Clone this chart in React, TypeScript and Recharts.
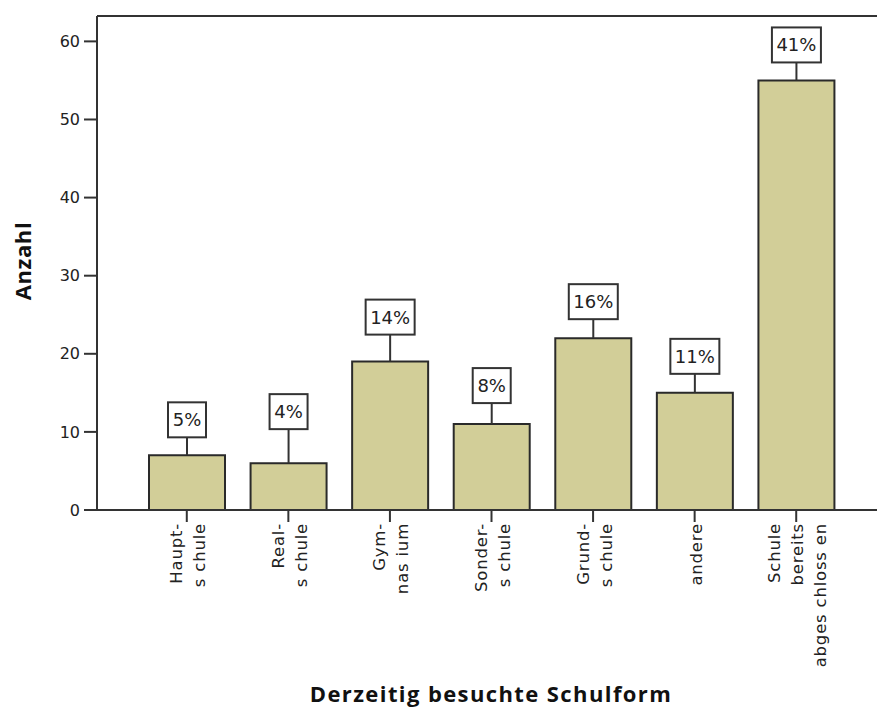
import React from 'react';
import { BarChart, Bar, XAxis, YAxis, ReferenceLine, LabelList } from 'recharts';

const categories = [
  'Haupt-\ns chule',
  'Real-\ns chule',
  'Gym-\nnas ium',
  'Sonder-\ns chule',
  'Grund-\ns chule',
  'andere',
  'Schule\nbereits\nabges chloss en',
];
const counts = [7, 6, 19, 11, 22, 15, 55];
const yTicks = [0, 10, 20, 30, 40, 50, 60];
const xTitle = 'Derzeitig besuchte Schulform';
const yTitle = 'Anzahl';

// layout constants (label lift above each bar, px)
const labelGap = [18, 34, 27, 21, 19, 19, 18];

const total = counts.reduce((a, b) => a + b, 0);
const data = categories.map((name, i) => ({ name, count: counts[i] }));

const AXIS = '#333333';
const FILL = '#D2CE98';
const FONT = '"DejaVu Sans", sans-serif';
const Y_MAX = 63.25;

const XTick = (props: any) => {
  const { x, y, payload } = props;
  const lines = String(payload.value).split('\n');
  const n = lines.length;
  const gap = 23;
  return (
    <g transform={`translate(${x},${y})`}>
      {lines.map((ln, i) => {
        const cx = (i - (n - 1) / 2) * gap + 1 + 6;
        return (
          <text
            key={i}
            x={0}
            y={0}
            transform={`translate(${cx},0) rotate(-90)`}
            textAnchor="end"
            fontFamily={FONT}
            fontSize={16.5}
            letterSpacing={0.8}
            fill="#222"
          >
            {ln}
          </text>
        );
      })}
    </g>
  );
};

const PctLabel = (props: any) => {
  const { x, y, width, value, index } = props;
  const cx = Number(x) + Number(width) / 2;
  const top = Number(y);
  const txt = `${Math.round((Number(value) / total) * 100)}%`;
  const w = 16 + txt.length * 11;
  const h = 35;
  const gap = labelGap[index] ?? 20;
  const boxBottom = top - gap;
  return (
    <g>
      <line x1={cx} y1={top} x2={cx} y2={boxBottom} stroke={AXIS} strokeWidth={2} />
      <rect x={cx - w / 2} y={boxBottom - h} width={w} height={h} fill="#fff" stroke={AXIS} strokeWidth={2} />
      <text
        x={cx}
        y={boxBottom - h / 2 + 6.5}
        textAnchor="middle"
        fontFamily={FONT}
        fontSize={18}
        fill="#222"
      >
        {txt}
      </text>
    </g>
  );
};

const XTitle = (props: any) => {
  const vb = props.viewBox || { x: 97, y: 510, width: 780, height: 197 };
  return (
    <text
      x={vb.x + vb.width / 2 + 4}
      y={vb.y + vb.height - 5}
      textAnchor="middle"
      fontFamily='"Open Sans", sans-serif'
      fontWeight={700}
      fontSize={22}
      letterSpacing={1.4}
      fill="#111"
    >
      {xTitle}
    </text>
  );
};

const YTitle = (props: any) => {
  const vb = props.viewBox || { x: 0, y: 16, width: 97, height: 494 };
  const cx = vb.x + 31;
  const cy = vb.y + vb.height / 2 - 2;
  return (
    <text
      x={cx}
      y={cy}
      transform={`rotate(-90, ${cx}, ${cy})`}
      textAnchor="middle"
      fontFamily='"Open Sans", sans-serif'
      fontWeight={700}
      fontSize={22}
      letterSpacing={0.6}
      fill="#111"
    >
      {yTitle}
    </text>
  );
};

export default function App() {
  return (
    <div style={{ position: 'absolute', left: 0, top: 0, width: 877, height: 707, background: '#fff' }}>
      <BarChart
        width={877}
        height={707}
        data={data}
        margin={{ top: 16, right: 0, bottom: 0, left: 0 }}
        barCategoryGap={0}
      >
        <XAxis
          dataKey="name"
          height={197}
          interval={0}
          padding={{ left: 39, right: 30 }}
          axisLine={{ stroke: AXIS, strokeWidth: 2 }}
          tickLine={{ stroke: AXIS, strokeWidth: 2 }}
          tickSize={12}
          tickMargin={1}
          tick={<XTick />}
          label={<XTitle />}
        />
        <YAxis
          width={97}
          domain={[0, Y_MAX]}
          ticks={yTicks}
          allowDataOverflow
          axisLine={{ stroke: AXIS, strokeWidth: 2 }}
          tickLine={{ stroke: AXIS, strokeWidth: 2 }}
          tickSize={13}
          tickMargin={4}
          tick={{ fontFamily: FONT, fontSize: 16, fill: '#222' }}
          label={<YTitle />}
        />
        <ReferenceLine y={Y_MAX} stroke={AXIS} strokeWidth={2} ifOverflow="extendDomain" />
        <Bar
          dataKey="count"
          fill={FILL}
          stroke="#2a2a2a"
          strokeWidth={2}
          barSize={76}
          isAnimationActive={false}
        >
          <LabelList dataKey="count" content={<PctLabel />} />
        </Bar>
      </BarChart>
    </div>
  );
}
